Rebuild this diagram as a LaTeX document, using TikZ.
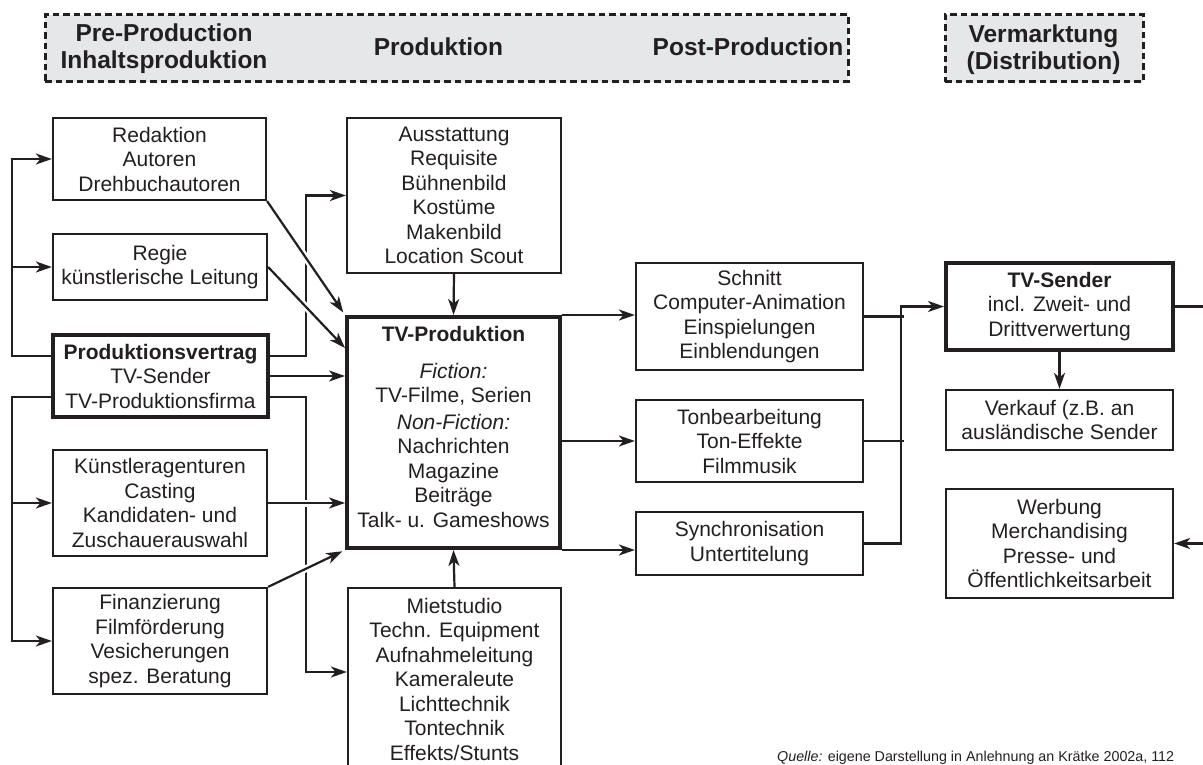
\documentclass[tikz,border=0pt]{standalone}
\usepackage{fontspec}
\setmainfont{Liberation Sans}
\usetikzlibrary{arrows.meta,calc}
\definecolor{ink}{HTML}{231F20}
\definecolor{hdrfill}{HTML}{E6E7E8}
\begin{document}
\begin{tikzpicture}[x=1pt,y=-1pt,
  box/.style={draw=ink, line width=2.2pt, align=center, inner sep=0pt, text=ink, font=\fontsize{21}{24.5}\selectfont},
  boldbox/.style={box, line width=4pt},
  plaintext/.style={align=center, inner sep=0pt, text=ink, font=\fontsize{21}{24.5}\selectfont},
  hdr/.style={draw=ink, fill=hdrfill, line width=3pt, dash pattern=on 6.5pt off 4pt},
  hdrtext/.style={font=\fontsize{24.5}{27}\selectfont\bfseries, text=ink, align=center, inner sep=0pt},
  conn/.style={draw=ink, line width=2.2pt},
  arr/.style={conn, -{Stealth[length=16pt,width=11pt,inset=4.5pt]}},
  bridge/.style={preaction={draw=white, line width=7pt, -, shorten <=22pt, shorten >=24pt}},
]
\path[use as bounding box] (0,0) rectangle (1203,765);
\clip (0,0) rectangle (1203,765);

% headers
\node[hdr, minimum width=803pt, minimum height=67pt] (hA) at (446.5,48.5) {};
\node[hdr, minimum width=198pt, minimum height=67pt] (hB) at (1044,48.5) {};
\node[hdrtext] (hpre) at (164,49) {Pre-Production\\Inhaltsproduktion};
\node[hdrtext] (hprod) at (438.5,47) {Produktion};
\node[hdrtext] (hpost) at (748,47) {Post-Production};
\node[hdrtext] (hverm) at (1043.5,49.5) {Vermarktung\\(Distribution)};

% left column
\node[box, minimum width=213pt, minimum height=82pt] (red) at (159.5,159) {Redaktion\\Autoren\\Drehbuchautoren};
\node[box, minimum width=214pt, minimum height=66pt] (reg) at (160,267) {Regie\\künstlerische Leitung};
\node[boldbox, minimum width=215pt, minimum height=82pt] (vert) at (160.5,376) {\textbf{Produktionsvertrag}\\TV-Sender\\TV-Produktionsfirma};
\node[box, minimum width=214pt, minimum height=106pt] (kuen) at (160,503) {Künstleragenturen\\Casting\\Kandidaten- und\\Zuschauerauswahl};
\node[box, minimum width=214pt, minimum height=106pt] (fin) at (160,641) {Finanzierung\\Filmförderung\\Vesicherungen\\spez. Beratung};

% middle column
\node[box, minimum width=214pt, minimum height=155pt] (aus) at (454,195.5) {Ausstattung\\Requisite\\Bühnenbild\\Kostüme\\Makenbild\\Location Scout};
\node[boldbox, minimum width=213pt, minimum height=231pt] (tvp) at (453.5,432.5) {};
\node[plaintext] (tvptext) at (453.5,427) {\textbf{TV-Produktion}\\[12pt]\textit{Fiction:}\\TV-Filme, Serien\\[2pt]\textit{Non-Fiction:}\\Nachrichten\\Magazine\\Beiträge\\Talk- u. Gameshows};
\node[box, minimum width=213pt, minimum height=182pt] (miet) at (454.5,679) {Mietstudio\\Techn. Equipment\\Aufnahmeleitung\\Kameraleute\\Lichttechnik\\Tontechnik\\Effekts/Stunts};

% post production
\node[box, minimum width=227pt, minimum height=107pt] (schn) at (749.5,316.5) {Schnitt\\Computer-Animation\\Einspielungen\\Einblendungen};
\node[box, minimum width=227pt, minimum height=82pt] (ton) at (749.5,441) {Tonbearbeitung\\Ton-Effekte\\Filmmusik};
\node[box, minimum width=227pt, minimum height=63pt] (sync) at (749.5,543.5) {Synchronisation\\Untertitelung};

% distribution
\node[boldbox, minimum width=227pt, minimum height=87pt] (tvs) at (1059.5,306.5) {\textbf{TV-Sender}\\incl. Zweit- und\\Drittverwertung};
\node[box, minimum width=227pt, minimum height=60pt] (verk) at (1059.5,420) {Verkauf (z.B. an\\ausländische Sender};
\node[box, minimum width=227pt, minimum height=109pt] (werb) at (1059.5,543.5) {Werbung\\Merchandising\\Presse- und\\Öffentlichkeitsarbeit};

\node[anchor=base west, inner sep=0pt, text=ink, font=\fontsize{14.3}{16}\selectfont] (quelle) at (777,761) {\textit{Quelle:} eigene Darstellung in Anlehnung an Krätke 2002a, 112};

% connectors left of Produktionsvertrag
\draw[arr] ([yshift=-23pt]vert.north west) -| ([xshift=-40pt]red.west) -- (red.west);
\draw[arr] ([xshift=-40pt]reg.west) -- (reg.west);
\draw[arr] ([yshift=22pt]vert.south west) -| ([xshift=-40pt]fin.west) -- (fin.west);
\draw[arr] ([xshift=-40pt]kuen.west) -- (kuen.west);

% connectors right of Produktionsvertrag
\draw[arr] ([yshift=-23pt]vert.north east) -| ([xshift=-40pt]aus.west) -- (aus.west);
\draw[arr] (vert.east) -- (vert.east -| tvp.west);
\draw[arr] ([yshift=22pt]vert.south east) -| ([xshift=-41pt,yshift=7pt]miet.west) -- ([yshift=7pt]miet.west);

% into TV-Produktion
\draw[arr, bridge, shorten >=3pt] (red.south east) -- (tvp.north west);
\draw[arr, bridge] (reg.east) -- ([yshift=-33pt]tvp.north west);
\draw[arr, bridge] (kuen.east) -- (kuen.east -| tvp.west);
\draw[arr, bridge, shorten >=3pt] (fin.north east) -- (tvp.south west);
\draw[arr] (aus.south) -- (tvp.north);
\draw[arr] (miet.north) -- (tvp.south);

% to post production
\draw[arr] (tvp.north east) -- (tvp.north east -| schn.west);
\draw[arr] (tvp.east |- ton.west) -- (ton.west);
\draw[arr] (tvp.south east) -- (tvp.south east -| sync.west);

% to TV-Sender
\draw[conn] (schn.east) -- ([xshift=40pt]schn.east);
\draw[conn] (ton.east) -- ([xshift=40pt]ton.east);
\draw[arr] (sync.east) -| ([xshift=-43pt]tvs.west) -- (tvs.west);
\draw[arr] (tvs.south) -- (verk.north);
\draw[arr] (tvs.east) -| ([xshift=60pt]werb.east) -- (werb.east);
\end{tikzpicture}
\end{document}
